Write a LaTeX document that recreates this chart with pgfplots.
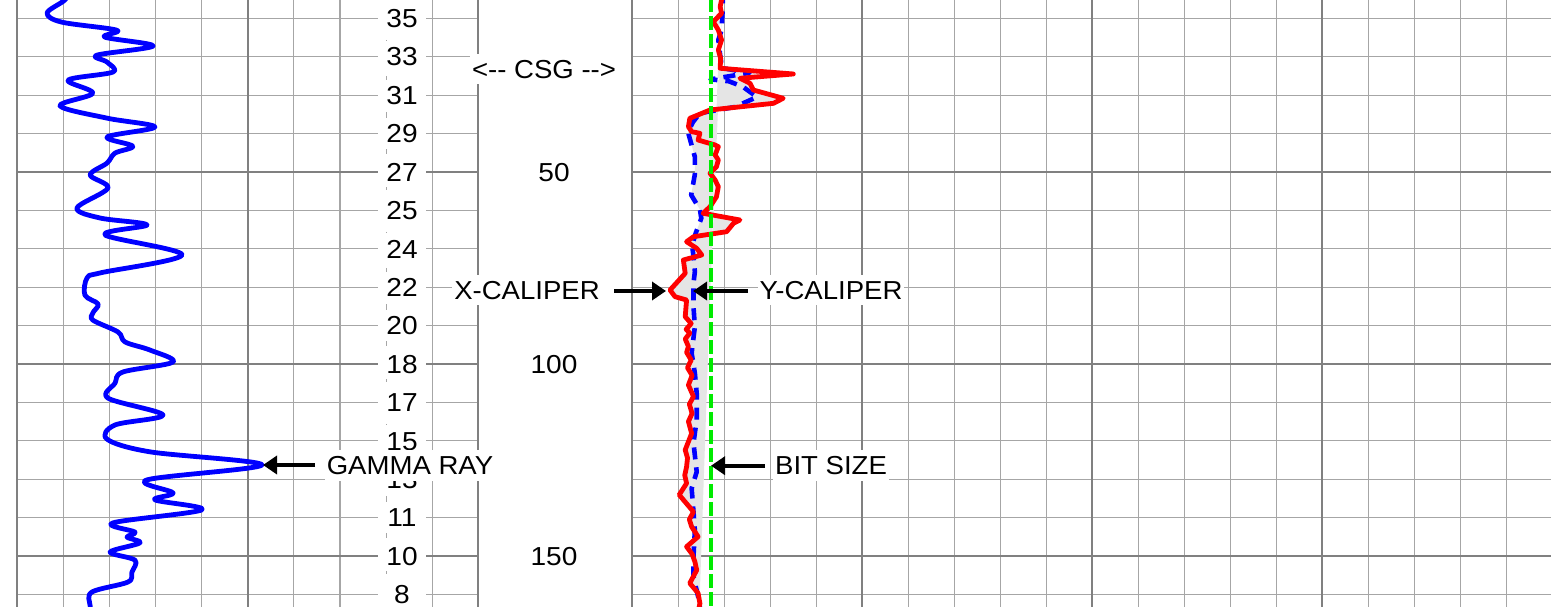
\documentclass[border=0pt]{standalone}
\usepackage{fontspec}
\setmainfont{Liberation Sans}
\usepackage{graphicx}
\usepackage{pgfplots}
\pgfplotsset{compat=1.18}
\usepgfplotslibrary{fillbetween}
\usetikzlibrary{arrows.meta}
\definecolor{bitgreen}{RGB}{0,235,0}

\pgfplotsset{
  track/.style={
    scale only axis, anchor=north west,
    y dir=reverse, ymin=0, ymax=170, height=326.4pt,
    axis line style={draw=none}, tick style={draw=none}, major tick length=0pt,
    xticklabels={}, yticklabels={}, extra x tick labels={}, extra y tick labels={},
    ytick={0,10,...,170}, extra y ticks={0,50,100,150},
    grid=major, major grid style={gray!70, line width=0.55pt},
    extra tick style={grid=major, major grid style={gray, line width=1pt}},
  },
}

\begin{document}
\begin{tikzpicture}[x=0.5pt, y=0.5pt,
  lab/.style={fill=white, inner xsep=1pt, inner ysep=3pt, text height=9.3pt,
    text depth=0pt, font=\fontsize{13}{13}\selectfont},
  arr/.style={line width=2pt, -{Triangle[length=7pt, width=9pt]}}]

% gamma ray track (API, depth ft)
\begin{axis}[track, at={(8.65pt,313.05pt)}, width=230.5pt, xmin=0, xmax=150,
  xtick={0,15,30,45,60,75,90,105,135,150}, extra x ticks={0,75,150}]
\addplot[gray!70, line width=0.55pt, dash pattern=on 3pt off 3pt] coordinates {(120,0) (120,170)};
\addplot[blue, line width=2.4pt, smooth, tension=0.55, line join=round] coordinates {
  (18,2) (15.5,5.2) (9.7,8.6) (14.5,11.0) (32.4,13.1) (28.5,14.9) (44.2,17.2)
  (25.9,19.6) (29.2,21.4) (31.1,24.0) (16.5,26.1) (24.6,29.5) (13.9,32.8)
  (29.2,36.0) (44.8,38.3) (29.2,40.9) (37.6,43.3) (31.8,45.1) (29.2,47.7)
  (23.7,50.8) (29.5,54.2) (19.4,59.4) (26.9,62.0) (42.2,63.8) (28.5,66.4)
  (53.6,71.6) (27.0,76.3) (22.7,77.6) (22.0,82.1) (26.3,84.4) (24.6,86.7)
  (24.6,88.6) (32.8,91.7) (35.1,94.3) (43.2,96.4) (50.7,99.5) (34.4,102.1)
  (31.8,105.0) (29.5,108.9) (47.4,113.3) (31.8,115.9) (29.2,119.6) (43.2,122.9)
  (79.6,126.3) (42.2,130.2) (50.7,133.6) (44.8,135.4) (60.1,138.0) (31.1,141.4)
  (38.3,143.8) (35.7,145.1) (39.9,146.6) (30.2,149.0) (38.3,151.1) (37.3,154.2)
  (36.0,156.8) (24.3,159.4) (23.7,163.0) (25,168)};
\end{axis}

% caliper track (inches, depth ft)
\begin{axis}[track, at={(316.15pt,313.05pt)}, width=460pt, xmin=6, xmax=26,
  xtick={6,...,26}, extra x ticks={6,11,16,21,26}]
\addplot[name path=ycal, blue, line width=2.3pt, dash pattern=on 6pt off 4pt, line join=round] coordinates {
  (7.97,3) (7.97,6.5) (7.96,8.7) (7.94,13.05) (7.87,15.65) (7.91,19.6) (7.95,22.96)
  (8.55,24.2) (7.70,25.9) (8.10,26.4) (8.40,27.8) (8.71,30.5) (8.23,33.1) (7.47,34.7)
  (7.32,37.0) (7.21,39.6) (7.36,46.1) (7.36,50.6) (7.28,56.0) (7.47,59.8) (7.50,62.1)
  (7.38,65.9) (7.30,69.2) (7.33,72.0) (7.36,76.0) (7.33,79.0) (7.33,85.1) (7.36,90.3)
  (7.29,97.2) (7.36,102.4) (7.40,107.7) (7.40,114.6) (7.33,120.6) (7.40,128.1)
  (7.29,132.4) (7.33,138.5) (7.36,143.3) (7.33,150.2) (7.33,155.4) (7.43,160.6)
  (7.47,162.3) (7.45,166)};
\addplot[name path=xcal, red, line width=2.4pt, line join=round] coordinates {
  (7.92,3) (7.94,5.23) (7.91,6.98) (7.94,8.70) (7.76,10.88) (7.87,13.05) (7.94,15.65)
  (7.87,18.26) (7.92,20.42) (7.91,23.02) (9.50,24.50) (8.34,25.62) (8.56,26.93)
  (8.63,28.67) (9.28,30.83) (9.07,32.14) (7.69,33.88) (7.25,36.04) (7.22,38.23)
  (7.29,39.53) (7.47,39.95) (7.43,41.69) (7.80,42.99) (7.87,43.44) (7.80,45.60)
  (7.87,46.90) (7.83,48.65) (7.69,50.37) (7.80,52.11) (7.87,53.85) (7.83,56.46)
  (7.69,59.06) (7.54,60.78) (8.34,62.52) (8.20,63.38) (8.05,65.57) (7.33,66.88)
  (7.18,68.18) (7.40,69.90) (7.51,71.64) (7.11,72.94) (7.15,76.41) (6.82,80.76)
  (6.93,82.50) (7.18,83.36) (7.15,87.7) (7.28,89.5) (7.17,91.0) (7.25,92.0)
  (7.15,93.5) (7.22,95.5) (7.18,97.0) (7.28,99.0) (7.20,101.0) (7.30,103.0)
  (7.22,105.5) (7.33,108.5) (7.24,110.5) (7.30,112.9) (7.22,115.0) (7.29,118.1)
  (7.15,122.4) (7.20,124.5) (7.18,126.8) (7.14,129.0) (7.18,131.1) (7.02,134.1)
  (7.11,135.4) (7.33,138.5) (7.24,140.5) (7.29,142.4) (7.43,145.0) (7.18,147.6)
  (7.30,149.5) (7.36,151.5) (7.40,153.7) (7.25,157.1) (7.43,159.7) (7.47,162.4)
  (7.40,166)};
\addplot[fill=black!10, draw=none] fill between[of=ycal and xcal];
\addplot[bitgreen, line width=1.8pt, dash pattern=on 7pt off 2pt]
  coordinates {(7.71,0) (7.71,170)};
\end{axis}

% elevation column
\foreach \d/\e in {10/35,20/33,30/31,40/29,50/27,60/25,70/24,80/22,90/20,
  100/18,110/17,120/15,130/13,140/11,150/10,160/8}
  \node[lab, minimum width=24pt] at (402,{606-(18.3+(\d-10)*3.84)}) {\scalebox{1.08}[1]{\e}};

% depth column
\node[lab] at (554,{606-172.3}) {\scalebox{1.08}[1]{50}};
\node[lab] at (554,{606-364.2}) {\scalebox{1.08}[1]{100}};
\node[lab] at (554,{606-556.2}) {\scalebox{1.08}[1]{150}};
\node[lab] at (544,{606-69}) {\scalebox{1.06}[1]{<-{}- CSG -{}->}};

% curve annotations
\node[lab] at (410,{606-465.3}) {\scalebox{1.06}[1]{GAMMA RAY}};
\draw[arr] (315,{606-465}) -- (263,{606-465});
\node[lab] at (527,{606-290}) {\scalebox{1.06}[1]{X-CALIPER}};
\draw[arr] (614,{606-291}) -- (666,{606-291});
\node[lab] at (831,{606-290}) {\scalebox{1.06}[1]{Y-CALIPER}};
\draw[arr] (748,{606-291}) -- (693,{606-291});
\node[lab] at (831,{606-465.5}) {\scalebox{1.06}[1]{BIT SIZE}};
\draw[arr] (765,{606-465.7}) -- (711,{606-465.7});

\pgfresetboundingbox
\useasboundingbox (0,0) rectangle (1551,606);
\end{tikzpicture}
\end{document}
